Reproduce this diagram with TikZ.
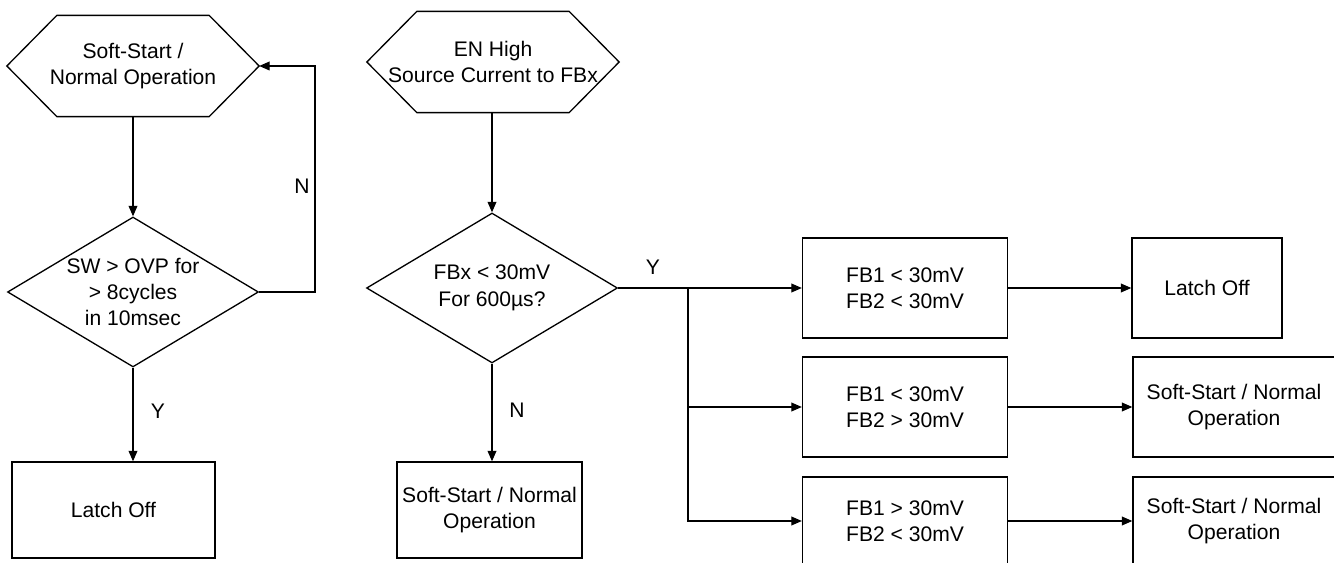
\documentclass[tikz,border=0pt]{standalone}
\usepackage{fontspec}
\setmainfont{Liberation Sans}
\usepackage{tikz}
\usetikzlibrary{arrows.meta, positioning, shapes.geometric}
\tikzset{
  hexbox/.style={rectangle, minimum width=5.02cm, minimum height=2cm, inner sep=0pt, align=center},
  decbox/.style={draw, diamond, aspect=1.67, minimum width=5.02cm, minimum height=3cm,
                 inner sep=0pt, align=center},
  pbox/.style={draw, rectangle, inner sep=0pt, align=center},
  arr/.style={-{Triangle[length=6pt, width=5pt]}},
  lbl/.style={font=\fontsize{12}{15}\selectfont},
}
% hexagon outline round a hexbox node
\newcommand{\hexframe}[1]{%
  \draw (#1.west) -- ([xshift=1cm]#1.north west) -- ([xshift=-1cm]#1.north east)
    -- (#1.east) -- ([xshift=-1cm]#1.south east) -- ([xshift=1cm]#1.south west) -- cycle;}

\begin{document}
\begin{tikzpicture}[x=0.02cm, y=-0.02cm, line width=0.75pt,
                    every node/.style={font=\fontsize{12}{15}\selectfont}]
  \useasboundingbox (0,0) rectangle (1334,563);
  \clip (0,0) rectangle (1334,563);

  %% OVP branch
  \node[hexbox] (hexovp) at (133,66) {Soft-Start /\\Normal Operation};
  \hexframe{hexovp}
  \node[decbox] (decovp) at (133,292) {SW > OVP for\\> 8cycles\\in 10msec};
  \node[pbox, minimum width=4.06cm, minimum height=1.92cm] (latchovp) at (113.5,510) {Latch Off};

  \draw[arr] (hexovp.south) -- (decovp.north);
  \draw[arr] (decovp.south) -- (decovp.south |- latchovp.north);
  \draw[arr] (decovp.east) -- ++(56,0) |- (hexovp.east);
  \node[lbl] (novp) at (302,186) {N};
  \node[lbl] (yovp) at (158,411) {Y};

  %% Short-circuit branch
  \node[hexbox] (hexen) at (493,62) {EN High\\Source Current to FBx};
  \hexframe{hexen}
  \node[decbox] (decfb) at (492,288) {FBx < 30mV\\For 600µs?};
  \node[pbox, minimum width=3.7cm, minimum height=1.92cm] (ssfb) at (489.5,510) {Soft-Start / Normal\\Operation};

  \draw[arr] (hexen.south -| decfb.north) -- (decfb.north);
  \draw[arr] (decfb.south) -- (decfb.south |- ssfb.north);
  \node[lbl] (nfb) at (517,410) {N};
  \node[lbl] (yfb) at (653,267) {Y};

  %% Cases
  \node[pbox, minimum width=4.1cm, minimum height=2cm] (case1) at (905,288) {FB1 < 30mV\\FB2 < 30mV};
  \node[pbox, minimum width=4.1cm, minimum height=2cm] (case2) at (905,407) {FB1 < 30mV\\FB2 > 30mV};
  \node[pbox, minimum width=4.1cm, minimum height=1.76cm] (case3) at (905,521) {FB1 > 30mV\\FB2 < 30mV};

  \node[pbox, minimum width=3cm, minimum height=2cm] (res1) at (1207,288) {Latch Off};
  \node[pbox, minimum width=4.04cm, minimum height=2cm] (res2) at (1234,407) {Soft-Start / Normal\\Operation};
  \node[pbox, minimum width=4.04cm, minimum height=1.76cm] (res3) at (1234,521) {Soft-Start / Normal\\Operation};

  \coordinate (split) at (688,288);
  \draw[arr] (decfb.east) -- (case1.west);
  \draw[arr] (split) |- (case2.west);
  \draw[arr] (split) |- (case3.west);

  \draw[arr] (case1.east) -- (case1.east -| res1.west);
  \draw[arr] (case2.east) -- (case2.east -| res2.west);
  \draw[arr] (case3.east) -- (case3.east -| res3.west);

\end{tikzpicture}
\end{document}
